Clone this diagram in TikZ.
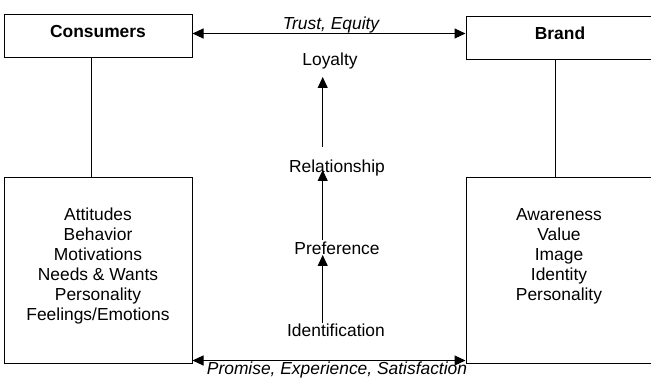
\documentclass[tikz,border=0pt]{standalone}
\usepackage{fontspec}
\setmainfont{Liberation Sans}
\usetikzlibrary{arrows.meta}

\begin{document}
\begin{tikzpicture}[x=1pt,y=1pt,
  font=\fontsize{17.4}{20}\selectfont,
  line width=1pt,
  headbox/.style={draw, minimum width=188pt, minimum height=43pt,
    inner sep=0pt, text height=12pt, text depth=9pt, font=\fontsize{17.4}{20}\selectfont\bfseries},
  listbox/.style={draw, minimum width=188pt, minimum height=186pt, inner sep=0pt},
  listtext/.style={align=center, inner sep=0pt},
  stage/.style={inner sep=0pt},
  tag/.style={inner sep=0pt, font=\fontsize{17.4}{20}\selectfont\itshape},
  tip/.style={-{Triangle[length=11pt,width=10pt]}},
  tips/.style={{Triangle[length=11pt,width=10pt]}-{Triangle[length=11pt,width=10pt]}}
]
\useasboundingbox (0,0) rectangle (651,378);
\fill[white] (0,0) rectangle (651,378);
\clip (0,0) rectangle (651,378);

% the two parties
\node[headbox] (cons)  at (98,341.5)  {Consumers};
\node[headbox] (brand) at (560,340.3) {Brand};

% what each party brings
\node[listbox] (attr)  at (98,107.7)  {};
\node[listbox] (bvals) at (560,107.7) {};
\node[listtext] (attrtext)  at (98,112)  {Attitudes\\Behavior\\Motivations\\Needs \& Wants\\Personality\\Feelings/Emotions};
\node[listtext] (bvalstext) at (559,122) {Awareness\\Value\\Image\\Identity\\Personality};

% ladder of the relationship
\node[stage] (loy)   at (330,317.3) {Loyalty};
\node[stage] (rel)   at (337,210)   {Relationship};
\node[stage] (pref)  at (337,130)   {Preference};
\node[stage] (ident) at (336,48)    {Identification};

% exchange labels
\node[tag] (trust)   at (331,353) {Trust, Equity};
\node[tag] (promise) at (337,7.5) {Promise, Experience, Satisfaction};

% links between the boxes
\draw ([xshift=-7pt]cons.south)  -- ([xshift=-7pt]cons.south |- attr.north);
\draw ([xshift=-5pt]brand.south) -- ([xshift=-5pt]brand.south |- bvals.north);
\draw[tips] ([yshift=3pt]cons.east) -- ([yshift=3pt]cons.east -| brand.west);
\draw[tips] ([yshift=3.3pt]attr.south east) -- ([yshift=3.3pt]attr.south east -| bvals.west);

% steps of the ladder
\draw[tip] ([xshift=-13.3pt,yshift=7pt]ident.center) -- ([xshift=-14.3pt,yshift=-7pt]pref.center);
\draw[tip] ([xshift=-14.3pt,yshift=8pt]pref.center)  -- ([xshift=-14.3pt,yshift=-2pt]rel.center);
\draw[tip] ([xshift=-14.3pt,yshift=21pt]rel.center)  -- ([xshift=-7.3pt,yshift=-16.3pt]loy.center);
\end{tikzpicture}
\end{document}
